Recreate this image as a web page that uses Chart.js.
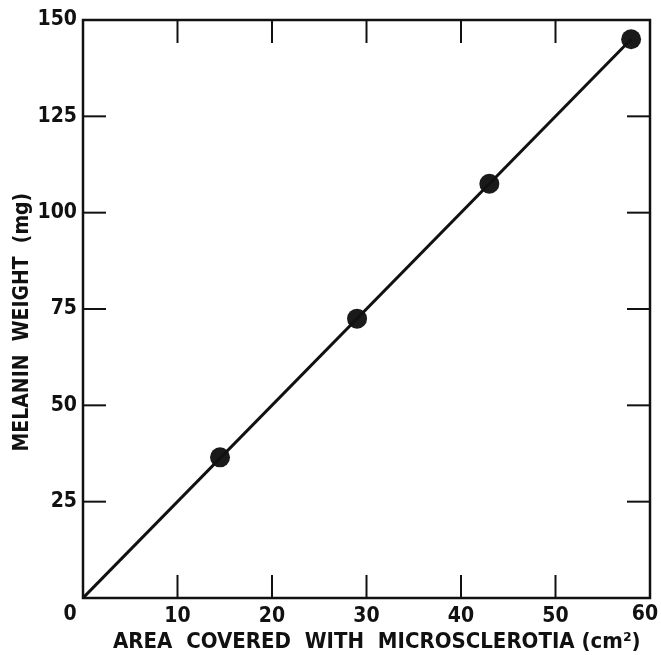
<!DOCTYPE html>
<html><head><meta charset="utf-8">
<script src="https://cdn.jsdelivr.net/npm/chart.js@4/dist/chart.umd.min.js"></script>
<style>html,body{margin:0;padding:0;background:#fff}#wrap{width:661px;height:655px}</style>
</head><body><div id="wrap"><canvas id="c" width="661" height="655"></canvas></div>
<script>
const areaValues = [14.5, 29, 43, 58];
const melaninValues = [36.5, 72.5, 107.5, 145];
const fitX = [0, 58];
const fitY = [0, 145];
const xTicks = [0, 10, 20, 30, 40, 50, 60];
const yTicks = [0, 25, 50, 75, 100, 125, 150];
const xTitle = '   AREA  COVERED  WITH  MICROSCLEROTIA (cm²)';
const yTitle = 'MELANIN  WEIGHT  (mg)    ';

const FONT = "'DejaVu Sans Condensed', 'DejaVu Sans', sans-serif";
const TICKFONT = {family: FONT, size: 21, weight: 'bold'};

const frame = {
  id: 'frame',
  afterDatasetsDraw(chart) {
    const {ctx, chartArea: a, scales: {x, y}} = chart;
    ctx.save();
    ctx.strokeStyle = '#111';
    ctx.lineWidth = 2.5;
    ctx.strokeRect(a.left, a.top, a.right - a.left, a.bottom - a.top);
    ctx.lineWidth = 2;
    const L = 23;
    xTicks.slice(1, -1).forEach(v => {
      const px = x.getPixelForValue(v);
      ctx.beginPath(); ctx.moveTo(px, a.bottom); ctx.lineTo(px, a.bottom - L); ctx.stroke();
      ctx.beginPath(); ctx.moveTo(px, a.top); ctx.lineTo(px, a.top + L); ctx.stroke();
    });
    yTicks.slice(1, -1).forEach(v => {
      const py = y.getPixelForValue(v);
      ctx.beginPath(); ctx.moveTo(a.left, py); ctx.lineTo(a.left + L, py); ctx.stroke();
      ctx.beginPath(); ctx.moveTo(a.right, py); ctx.lineTo(a.right - L, py); ctx.stroke();
    });
    // end labels of the x axis, set off from the corners as in the reference
    ctx.fillStyle = '#111';
    ctx.font = `bold ${TICKFONT.size}px ${FONT}`;
    ctx.textAlign = 'center';
    ctx.textBaseline = 'middle';
    const first = xTicks[0], last = xTicks[xTicks.length - 1];
    ctx.fillText(String(first), x.getPixelForValue(first) - 13, a.bottom + 17);
    ctx.fillText(String(last), x.getPixelForValue(last) - 5, a.bottom + 17);
    ctx.restore();
  }
};

new Chart(document.getElementById('c'), {
  type: 'scatter',
  data: {
    datasets: [
      {
        data: fitX.map((v, i) => ({x: v, y: fitY[i]})),
        showLine: true, borderColor: '#111', borderWidth: 3, pointRadius: 0
      },
      {
        data: areaValues.map((v, i) => ({x: v, y: melaninValues[i]})),
        backgroundColor: '#1a1a1a', borderColor: '#1a1a1a', pointRadius: 10, pointBorderWidth: 0
      }
    ]
  },
  options: {
    responsive: false, animation: false,
    layout: {padding: {top: 20, right: 11, left: 0, bottom: 0}},
    plugins: {legend: {display: false}, tooltip: {enabled: false}},
    scales: {
      x: {
        type: 'linear', min: 0, max: 60,
        afterBuildTicks: s => { s.ticks = xTicks.map(v => ({value: v})); },
        grid: {display: false, drawTicks: false}, border: {display: false},
        ticks: {color: '#111', font: TICKFONT, padding: 6, maxRotation: 0,
                callback: v => (v === xTicks[0] || v === xTicks[xTicks.length - 1]) ? '' : v},
        title: {display: true, text: xTitle, color: '#111', padding: {top: 0, bottom: 0},
                font: {family: FONT, size: 22, weight: 'bold'}},
        afterFit: s => { s.height = 57; s.paddingLeft = 0; s.paddingRight = 0; }
      },
      y: {
        type: 'linear', min: 0, max: 150,
        afterBuildTicks: s => { s.ticks = yTicks.map(v => ({value: v})); },
        grid: {display: false, drawTicks: false}, border: {display: false},
        ticks: {color: '#111', font: TICKFONT, padding: 6,
                callback: v => v === 0 ? '' : v},
        title: {display: true, text: yTitle, color: '#111', padding: {top: 10, bottom: 4},
                font: {family: FONT, size: 21, weight: 'bold'}},
        afterFit: s => { s.width = 83; s.paddingTop = 0; s.paddingBottom = 0; }
      }
    }
  },
  plugins: [frame]
});
</script></body></html>
